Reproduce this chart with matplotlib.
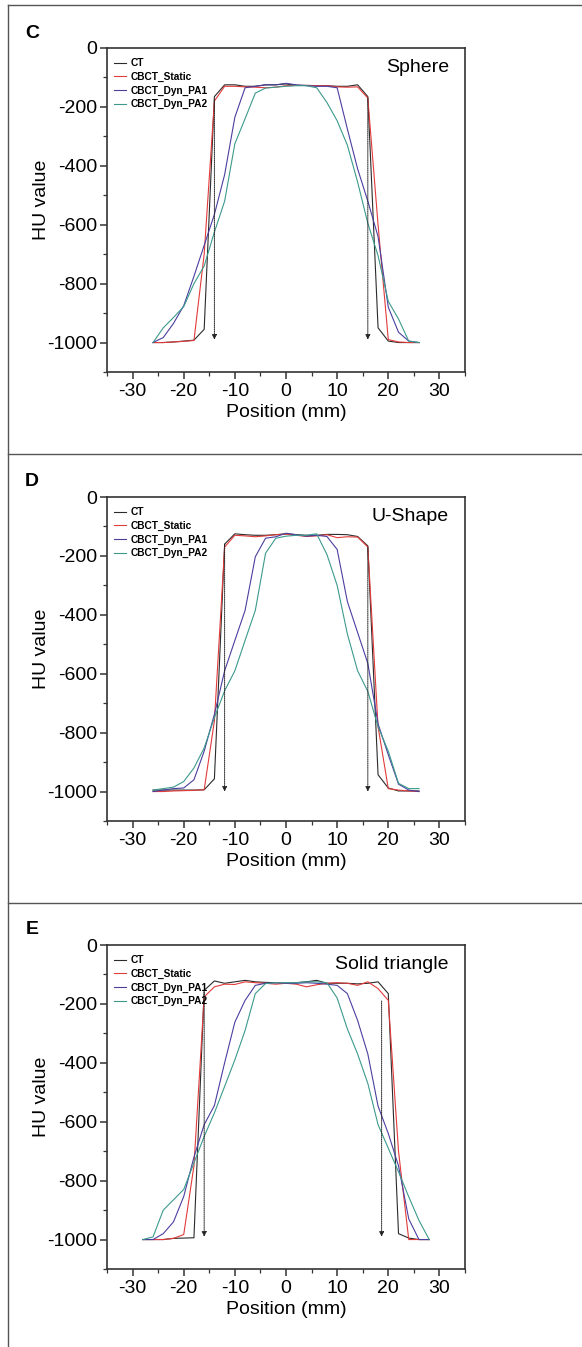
import matplotlib
matplotlib.use("Agg")
import matplotlib.pyplot as plt
from matplotlib.lines import Line2D
from matplotlib.ticker import MultipleLocator

plt.rcParams['axes.unicode_minus'] = False

NARROW = ['Liberation Sans', 'DejaVu Sans']
BOLD_SMALL = ['Liberation Sans', 'DejaVu Sans']

series_names = ['CT', 'CBCT_Static', 'CBCT_Dyn_PA1', 'CBCT_Dyn_PA2']
series_colors = ['#2b2b2b', '#e23b3b', '#4a3f9f', '#3c9a8c']

# Panel C - Sphere
x_c = [-26, -24, -22, -20, -18, -16, -14, -12, -10, -8, -6, -4, -2, 0,
       2, 4, 6, 8, 10, 12, 14, 16, 18, 20, 22, 24, 26]
ct_c = [-1000, -1000, -998, -995, -992, -955, -165, -125, -125, -130, -130, -125, -125, -122,
        -127, -127, -128, -128, -130, -130, -125, -165, -950, -995, -1000, -1000, -1000]
static_c = [-1000, -1000, -998, -996, -993, -700, -180, -130, -130, -132, -133, -135, -133, -128,
            -127, -127, -128, -128, -132, -133, -132, -170, -600, -990, -998, -1000, -1000]
pa1_c = [-1000, -983, -935, -875, -775, -670, -565, -430, -235, -135, -130, -125, -125, -120,
         -125, -128, -130, -130, -135, -275, -410, -520, -640, -880, -965, -995, -1000]
pa2_c = [-1000, -950, -915, -878, -800, -740, -625, -520, -325, -240, -153, -136, -133, -130,
         -128, -128, -135, -185, -247, -330, -455, -595, -705, -860, -920, -995, -1000]
arrows_c = [(-14, -175, -990), (16, -170, -990)]

# Panel D - U-Shape
x_d = [-26, -24, -22, -20, -18, -16, -14, -12, -10, -8, -6, -4, -2, 0,
       2, 4, 6, 8, 10, 12, 14, 16, 18, 20, 22, 24, 26]
ct_d = [-995, -995, -995, -995, -995, -994, -957, -160, -125, -128, -130, -130, -128, -125,
        -128, -130, -130, -127, -127, -128, -134, -166, -943, -988, -998, -998, -998]
static_d = [-1000, -1000, -998, -997, -996, -994, -760, -170, -130, -132, -135, -132, -128, -126,
            -130, -134, -132, -128, -138, -135, -136, -170, -780, -990, -995, -998, -1000]
pa1_d = [-1000, -995, -990, -988, -960, -863, -738, -590, -487, -385, -203, -140, -135, -123,
         -128, -133, -130, -134, -178, -355, -460, -565, -770, -875, -975, -995, -1000]
pa2_d = [-995, -990, -985, -966, -920, -852, -749, -658, -590, -487, -385, -191, -140, -133,
         -130, -130, -125, -195, -300, -465, -590, -660, -780, -863, -972, -990, -990]
arrows_d = [(-12, -160, -1000), (16, -170, -1000)]

# Panel E - Solid triangle
x_e = [-28, -26, -24, -22, -20, -18, -16, -14, -12, -10, -8, -6, -4, -2, 0,
       2, 4, 6, 8, 10, 12, 14, 16, 18, 20, 22, 24, 26, 28]
ct_e = [-1000, -1000, -1000, -996, -995, -994, -154, -122, -130, -125, -120, -125, -127, -128, -130,
        -128, -125, -120, -130, -130, -130, -132, -130, -125, -165, -980, -995, -1000, -1000]
static_e = [-1000, -1000, -1000, -996, -983, -750, -176, -142, -133, -134, -125, -128, -130, -133, -130,
            -133, -142, -135, -130, -128, -130, -137, -125, -148, -188, -700, -1000, -1000, -1000]
pa1_e = [-1000, -1000, -980, -940, -854, -720, -610, -545, -400, -262, -188, -137, -130, -128, -130,
         -130, -128, -130, -133, -137, -165, -256, -370, -547, -640, -750, -930, -1000, -1000]
pa2_e = [-1000, -991, -900, -865, -830, -740, -650, -570, -480, -390, -290, -165, -131, -128, -128,
         -128, -125, -125, -128, -180, -285, -370, -470, -610, -690, -770, -855, -935, -1000]
arrows_e = [(-16, -160, -990), (18.7, -190, -990)]

panels = [
    ('C', 'Sphere', x_c, [ct_c, static_c, pa1_c, pa2_c], arrows_c),
    ('D', 'U-Shape', x_d, [ct_d, static_d, pa1_d, pa2_d], arrows_d),
    ('E', 'Solid triangle', x_e, [ct_e, static_e, pa1_e, pa2_e], arrows_e),
]

W, H = 582, 1347
fig = plt.figure(figsize=(W / 100, H / 100), dpi=100)

# panel frames
frame_kw = dict(color='#555555', lw=1.0, transform=fig.transFigure)
fig.add_artist(Line2D([8 / W, 8 / W], [0, 1 - 5 / H], **frame_kw))
for ypx in [5, 454, 903]:
    fig.add_artist(Line2D([8 / W, 1], [1 - ypx / H, 1 - ypx / H], **frame_kw))

ax_tops = [48, 497, 945]
label_y = [33, 482, 930]
ax_h = 324

for (letter, title, xs, ys, arrows), top, ly in zip(panels, ax_tops, label_y):
    ax = fig.add_axes([107 / W, 1 - (top + ax_h) / H, 358 / W, ax_h / H])
    for y, name, col in zip(ys, series_names, series_colors):
        ax.plot(xs, y, color=col, lw=0.8, label=name)
    for xa, y0, y1 in arrows:
        ax.annotate('', xy=(xa, y1), xytext=(xa, y0),
                    arrowprops=dict(arrowstyle='-|>', color='#222222', lw=0.7,
                                    ls=(0, (1, 1)), mutation_scale=7,
                                    shrinkA=0, shrinkB=0))
    ax.set_xlim(-35, 35)
    ax.set_ylim(-1100, 0)
    ax.xaxis.set_major_locator(MultipleLocator(10))
    ax.xaxis.set_minor_locator(MultipleLocator(5))
    ax.set_yticks([0, -200, -400, -600, -800, -1000])
    ax.yaxis.set_minor_locator(MultipleLocator(100))
    ax.tick_params(which='major', direction='out', length=5, width=1.1, color='#333333')
    ax.tick_params(which='minor', direction='out', length=3, width=0.9, color='#333333')
    ax.tick_params(axis='x', pad=3)
    ax.tick_params(axis='y', pad=2)
    for lab in ax.get_xticklabels() + ax.get_yticklabels():
        lab.set_family(NARROW)
        lab.set_fontsize(14)
    for sp in ax.spines.values():
        sp.set_linewidth(1.2)
        sp.set_color('#333333')
    ax.set_xlabel('Position (mm)', family=NARROW, fontsize=14)
    ax.xaxis.set_label_coords(0.5, -0.1)
    ax.set_ylabel('HU value', family=NARROW, fontsize=14)
    ax.yaxis.set_label_coords(-0.16, 0.53)
    ax.text(0.955, 0.965, title, transform=ax.transAxes, ha='right', va='top',
            family=NARROW, fontsize=14)
    ax.legend(loc='upper left', frameon=False, prop=dict(family=BOLD_SMALL, size=7.3, weight='bold'),
              handlelength=1.2, handletextpad=0.4, labelspacing=0.35,
              borderaxespad=0.3, bbox_to_anchor=(0.0, 0.99))
    fig.text(32 / W, 1 - ly / H, letter, family=NARROW, fontsize=14, weight='bold',
             ha='center', va='center')

fig.savefig('out.png', dpi=100)
